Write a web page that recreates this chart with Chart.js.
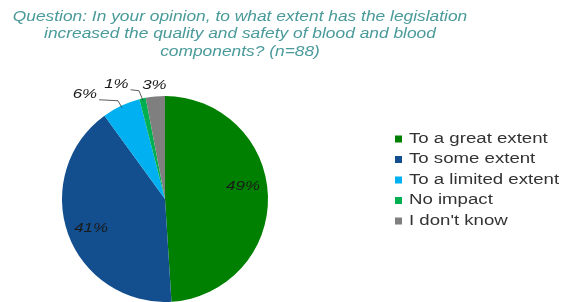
<!DOCTYPE html>
<html>
<head>
<meta charset="utf-8">
<script src="https://cdn.jsdelivr.net/npm/chart.js@4.4.0/dist/chart.umd.min.js"></script>
<style>
  html, body { margin: 0; padding: 0; background: #fff; }
  #wrap { width: 565px; height: 302px; position: relative; }
</style>
</head>
<body>
<div id="wrap"><canvas id="pie"></canvas></div>
<script>
const titleLines = [
    'Question: In your opinion, to what extent has the legislation',
    'increased the quality and safety of blood and blood',
    'components? (n=88)'
];
const categories = ['To a great extent', 'To some extent', 'To a limited extent', 'No impact', "I don't know"];
const shares = [49, 41, 6, 1, 3];
const sliceColors = ['#008000', '#134f8f', '#00b0f0', '#00b050', '#7f7f7f'];

// label placement: inside labels sit at a fraction of the radius,
// outside ones get pushed out and nudged left (like the original)
const labelInside = [true, true, false, false, false];
const labelNudge = [[8, -10], [-8, 6], [-32, -2], [-24, -4], [0, -1]];
const leaderLine = [false, false, true, true, false];

// the original picture is stretched sideways, so text is too
const textStretch = 1.3;

function wideText(ctx, text, x, y, sx) {
    ctx.save();
    ctx.translate(x, y);
    ctx.scale(sx, 1);
    ctx.fillText(text, 0, 0);
    ctx.restore();
}

const decorations = {
    id: 'decorations',
    afterDraw(chart) {
        const ctx = chart.ctx;
        ctx.save();

        // title
        ctx.fillStyle = '#4a9a9a';
        ctx.font = 'italic 14px "Liberation Sans", Arial, sans-serif';
        ctx.textAlign = 'center';
        ctx.textBaseline = 'middle';
        titleLines.forEach(function (line, i) {
            wideText(ctx, line, 240, 17 + i * 17.5, 1.24);
        });

        // slice labels
        const meta = chart.getDatasetMeta(0);
        ctx.font = 'italic 13px "Liberation Sans", Arial, sans-serif';
        ctx.fillStyle = '#1a1a1a';
        ctx.strokeStyle = '#333';
        ctx.lineWidth = 0.8;
        meta.data.forEach(function (arc, i) {
            const mid = (arc.startAngle + arc.endAngle) / 2;
            const r = arc.outerRadius;
            const cx = arc.x, cy = arc.y;
            const text = shares[i] + '%';
            let lx, ly;
            if (labelInside[i]) {
                lx = cx + Math.cos(mid) * r * 0.68 + labelNudge[i][0];
                ly = cy + Math.sin(mid) * r * 0.68 + labelNudge[i][1];
            } else {
                lx = cx + Math.cos(mid) * (r + 10) + labelNudge[i][0];
                ly = cy + Math.sin(mid) * (r + 10) + labelNudge[i][1];
                if (leaderLine[i]) {
                    const half = ctx.measureText(text).width * textStretch / 2;
                    const ex = cx + Math.cos(mid) * (r - 2);
                    const ey = cy + Math.sin(mid) * (r - 2);
                    ctx.beginPath();
                    ctx.moveTo(lx + half + 2, ly + 5);
                    ctx.lineTo(ex - 4, ly + 6);
                    ctx.lineTo(ex, ey);
                    ctx.stroke();
                }
            }
            wideText(ctx, text, lx, ly, textStretch);
        });

        // legend
        ctx.textAlign = 'left';
        ctx.font = '14px "Liberation Sans", Arial, sans-serif';
        categories.forEach(function (name, i) {
            const y = 139 + i * 20.5;
            ctx.fillStyle = sliceColors[i];
            ctx.fillRect(395, y - 3.5, 7, 7);
            ctx.fillStyle = '#333';
            wideText(ctx, name, 409, y, 1.33);
        });
        ctx.restore();
    }
};

new Chart(document.getElementById('pie'), {
    type: 'pie',
    data: {
        labels: categories,
        datasets: [{
            data: shares,
            backgroundColor: sliceColors,
            borderWidth: 0
        }]
    },
    options: {
        responsive: true,
        maintainAspectRatio: false,
        animation: false,
        layout: { padding: { left: 62, right: 297, top: 96, bottom: 0 } },
        plugins: {
            legend: { display: false },
            tooltip: { enabled: false }
        }
    },
    plugins: [decorations]
});
</script>
</body>
</html>
